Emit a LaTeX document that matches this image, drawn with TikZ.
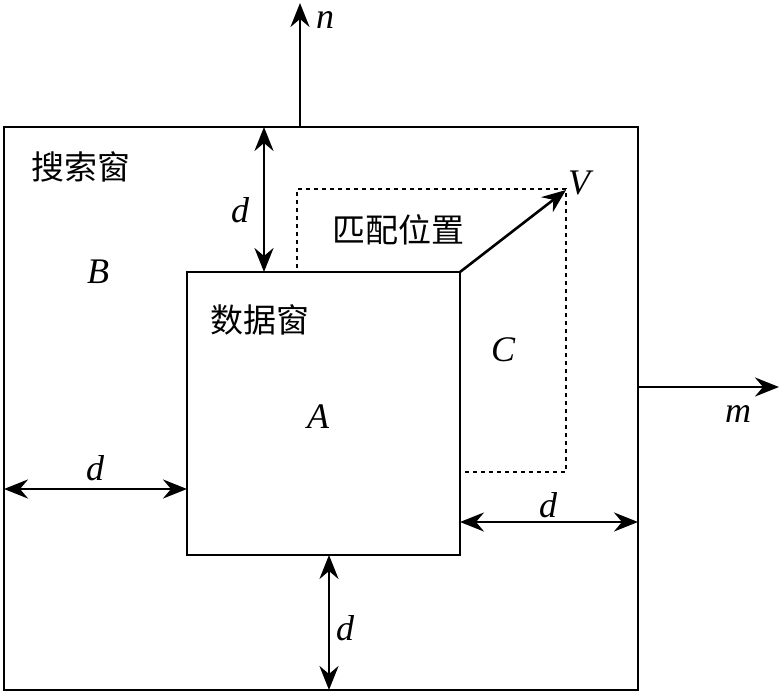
\documentclass[tikz,border=0pt]{standalone}
\usepackage{fontspec}
\setmainfont{Liberation Serif}
\newfontfamily\cjk{Noto Sans CJK SC}
\usetikzlibrary{arrows.meta}
\begin{document}
\begin{tikzpicture}[x=1pt,y=-1pt,
  box/.style={draw,line width=2.6pt,inner sep=0pt,outer sep=0pt},
  dbox/.style={draw,dash pattern=on 4pt off 4pt,line width=2.2pt,inner sep=0pt,outer sep=0pt},
  arr/.style={line width=2.6pt,-{Stealth[length=24pt,width=19pt,inset=8pt]}},
  darr/.style={line width=2.6pt,{Stealth[length=24pt,width=19pt,inset=8pt]}-{Stealth[length=24pt,width=19pt,inset=8pt]}},
  lab/.style={font=\fontsize{36}{36}\selectfont\itshape},
  zh/.style={font=\fontsize{33}{33}\selectfont\cjk}]
\useasboundingbox (0,0) rectangle (781,695);
\node[box,minimum width=634pt,minimum height=563pt] (B) at (321,408.5) {};
\node[dbox,minimum width=269pt,minimum height=283pt] (C) at (431.5,330.5) {};
\node[box,fill=white,minimum width=273pt,minimum height=283pt] (A) at (323.5,413.5) {};
% arrows
\coordinate (ntip) at (300,3);
\coordinate (nbase) at (300,127);
\draw[arr] (nbase) -- (ntip);
\coordinate (mbase) at (638,387);
\coordinate (mtip) at (779,387);
\draw[arr] (mbase) -- (mtip);
\coordinate (vtip) at (566,190);
\draw[arr] (A.north east) -- (vtip);
\coordinate (d1a) at (264,127); \coordinate (d1b) at (264,272);
\draw[darr] (d1a) -- (d1b);
\coordinate (d2a) at (4,489); \coordinate (d2b) at (187,489);
\draw[darr] (d2a) -- (d2b);
\coordinate (d3a) at (460,522); \coordinate (d3b) at (638,522);
\draw[darr] (d3a) -- (d3b);
\coordinate (d4a) at (329,555); \coordinate (d4b) at (329,690);
\draw[darr] (d4a) -- (d4b);
% labels
\node[lab] (ln) at (325,20) {n};
\node[lab] (lm) at (738,414) {m};
\node[lab] (lV) at (579,183) {V};
\node[lab] (lC) at (503,350) {C};
\node[lab] (lA) at (318,417) {A};
\node[lab] (lB) at (98,272) {B};
\node[lab] (ld1) at (240,210) {d};
\node[lab] (ld2) at (95,468) {d};
\node[lab] (ld3) at (548,505) {d};
\node[lab] (ld4) at (345,628) {d};
\node[zh] (t1) at (81,167) {搜索窗};
\node[zh] (t2) at (398,230) {匹配位置};
\node[zh] (t3) at (260,320) {数据窗};
\end{tikzpicture}
\end{document}
